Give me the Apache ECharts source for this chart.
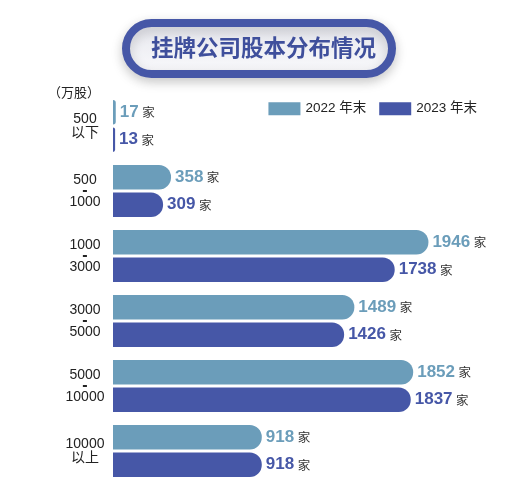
<!DOCTYPE html>
<html>
<head>
<meta charset="utf-8">
<script src="https://cdn.jsdelivr.net/npm/echarts@6/dist/echarts.min.js"></script>
<style>
  html, body { margin: 0; padding: 0; background: #fff; }
  #chart { width: 527px; height: 500px; }
</style>
</head>
<body>
<div id="chart"></div>
<script>
var categories = ["500\n以下", "500\n{d|-}\n1000", "1000\n{d|-}\n3000", "3000\n{d|-}\n5000", "5000\n{d|-}\n10000", "10000\n以上"];
var data2022 = [17, 358, 1946, 1489, 1852, 918];
var data2023 = [13, 309, 1738, 1426, 1837, 918];
var seriesNames = ["2022 年末", "2023 年末"];
var colors = ["#6b9dba", "#4657a7"];

var font = "Liberation Sans, Arial, Noto Sans CJK SC, sans-serif";

function makeLabel(color) {
  return {
    show: true,
    position: "right",
    distance: 4,
    formatter: function (p) {
      return "{v|" + p.value + "}{u| 家}";
    },
    rich: {
      v: { fontSize: 17, fontWeight: "bold", color: color, fontFamily: font },
      u: { fontSize: 12.5, color: "#333", fontFamily: font, padding: [3, 0, 0, 0] }
    }
  };
}

var myChart = echarts.init(document.getElementById("chart"));
var option = {
  backgroundColor: "#fff",
  animation: false,
  color: colors,
  legend: {
    top: 97,
    right: 45,
    itemWidth: 32,
    itemHeight: 13,
    itemGap: 13,
    icon: "rect",
    textStyle: { fontSize: 13.5, color: "#222", fontFamily: font },
    data: seriesNames
  },
  graphic: [
    {
      type: "rect",
      shape: { x: 126, y: 23, width: 266, height: 51, r: 25.5 },
      style: {
        fill: new echarts.graphic.LinearGradient(0, 0, 0, 1, [
          { offset: 0, color: "#e4e5ec" },
          { offset: 1, color: "#fbfbfd" }
        ]),
        stroke: "#4657a7",
        lineWidth: 8,
        shadowBlur: 12,
        shadowColor: "rgba(0,0,0,0.18)",
        shadowOffsetY: 4
      }
    },
    {
      type: "text",
      left: "center",
      top: 36,
      style: {
        text: "挂牌公司股本分布情况",
        fontSize: 22.5,
        fontWeight: "bold",
        fill: "#3f4f9c",
        fontFamily: "Noto Sans CJK SC, sans-serif"
      }
    },
    {
      type: "text",
      left: 48,
      top: 86,
      style: {
        text: "（万股）",
        fontSize: 13,
        fill: "#222",
        fontFamily: "Noto Sans CJK SC, sans-serif"
      }
    }
  ],
  grid: {
    left: 113,
    right: 25,
    top: 93.5,
    bottom: 16.5
  },
  xAxis: {
    type: "value",
    min: 0,
    max: 2400,
    show: false
  },
  yAxis: {
    type: "category",
    inverse: true,
    data: categories,
    axisLine: { show: false },
    axisTick: { show: false },
    axisLabel: {
      margin: 28,
      align: "center",
      fontSize: 14,
      lineHeight: 14,
      color: "#222",
      fontFamily: font,
      rich: {
        d: { fontSize: 16, fontWeight: "bold", lineHeight: 8, color: "#222", fontFamily: font }
      }
    }
  },
  series: [
    {
      name: seriesNames[0],
      type: "bar",
      data: data2022,
      barWidth: 24.5,
      barGap: "12%",
      itemStyle: { color: colors[0], borderRadius: [0, 12, 12, 0] },
      label: makeLabel(colors[0])
    },
    {
      name: seriesNames[1],
      type: "bar",
      data: data2023,
      barWidth: 24.5,
      barGap: "12%",
      itemStyle: { color: colors[1], borderRadius: [0, 12, 12, 0] },
      label: makeLabel(colors[1])
    }
  ]
};
myChart.setOption(option);
</script>
</body>
</html>
